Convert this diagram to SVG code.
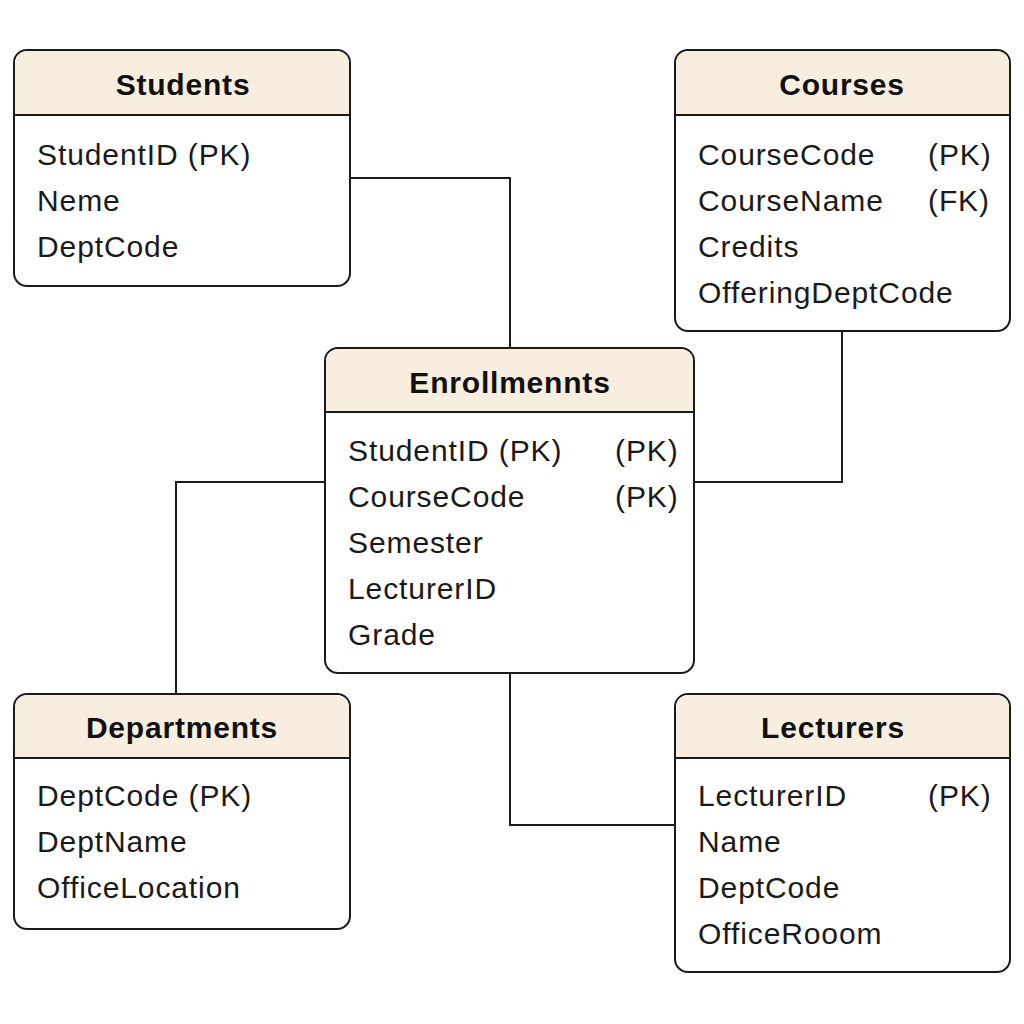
<svg xmlns="http://www.w3.org/2000/svg" width="1024" height="1024" viewBox="0 0 1024 1024">
<style>
.box{fill:#fff;stroke:#1a1a1a;stroke-width:2}
.hdr{fill:#F8EEDF}
.sep{stroke:#1a1a1a;stroke-width:2}
.t{font-family:"Liberation Sans",Arial,sans-serif;font-size:30px;font-weight:bold;fill:#111;text-anchor:middle;letter-spacing:0.8px}
.r{font-family:"Liberation Sans",Arial,sans-serif;font-size:30px;fill:#1a1a1a;letter-spacing:0.9px}
.c{fill:none;stroke:#1a1a1a;stroke-width:2}
</style>
<rect width="1024" height="1024" fill="#fff"/>
<g id="connectors">
<polyline class="c" points="350,178 510,178 510,348"/>
<polyline class="c" points="842,331 842,482 694,482"/>
<polyline class="c" points="325,482 176,482 176,694"/>
<polyline class="c" points="510,673 510,825 675,825"/>
</g>
<g id="students">
<rect class="box" x="14" y="50" width="336" height="236" rx="13"/>
<path class="hdr" d="M27,51 H337 A12,12 0 0 1 349,63 V115 H15 V63 A12,12 0 0 1 27,51 Z"/>
<line class="sep" x1="14" y1="115" x2="350" y2="115"/>
<text class="t" x="183" y="95">Students</text>
<text class="r" x="37" y="165">StudentID (PK)</text>
<text class="r" x="37" y="211">Neme</text>
<text class="r" x="37" y="257">DeptCode</text>
</g>
<g id="courses">
<rect class="box" x="675" y="50" width="335" height="281" rx="13"/>
<path class="hdr" d="M688,51 H997 A12,12 0 0 1 1009,63 V115 H676 V63 A12,12 0 0 1 688,51 Z"/>
<line class="sep" x1="675" y1="115" x2="1010" y2="115"/>
<text class="t" x="842" y="95">Courses</text>
<text class="r" x="698" y="165">CourseCode</text>
<text class="r" x="928" y="165">(PK)</text>
<text class="r" x="698" y="211">CourseName</text>
<text class="r" x="928" y="211">(FK)</text>
<text class="r" x="698" y="257">Credits</text>
<text class="r" x="698" y="303">OfferingDeptCode</text>
</g>
<g id="enrollments">
<rect class="box" x="325" y="348" width="369" height="325" rx="13"/>
<path class="hdr" d="M338,349 H681 A12,12 0 0 1 693,361 V412 H326 V361 A12,12 0 0 1 338,349 Z"/>
<line class="sep" x1="325" y1="412" x2="694" y2="412"/>
<text class="t" x="510" y="393">Enrollmennts</text>
<text class="r" x="348" y="461">StudentID (PK)</text>
<text class="r" x="615" y="461">(PK)</text>
<text class="r" x="348" y="507">CourseCode</text>
<text class="r" x="615" y="507">(PK)</text>
<text class="r" x="348" y="553">Semester</text>
<text class="r" x="348" y="599">LecturerID</text>
<text class="r" x="348" y="645">Grade</text>
</g>
<g id="departments">
<rect class="box" x="14" y="694" width="336" height="235" rx="13"/>
<path class="hdr" d="M27,695 H337 A12,12 0 0 1 349,707 V758 H15 V707 A12,12 0 0 1 27,695 Z"/>
<line class="sep" x1="14" y1="758" x2="350" y2="758"/>
<text class="t" x="182" y="738">Departments</text>
<text class="r" x="37" y="806">DeptCode (PK)</text>
<text class="r" x="37" y="852">DeptName</text>
<text class="r" x="37" y="898">OfficeLocation</text>
</g>
<g id="lecturers">
<rect class="box" x="675" y="694" width="335" height="278" rx="13"/>
<path class="hdr" d="M688,695 H997 A12,12 0 0 1 1009,707 V758 H676 V707 A12,12 0 0 1 688,695 Z"/>
<line class="sep" x1="675" y1="758" x2="1010" y2="758"/>
<text class="t" x="833" y="738">Lecturers</text>
<text class="r" x="698" y="806">LecturerID</text>
<text class="r" x="928" y="806">(PK)</text>
<text class="r" x="698" y="852">Name</text>
<text class="r" x="698" y="898">DeptCode</text>
<text class="r" x="698" y="944">OfficeRooom</text>
</g>
</svg>
